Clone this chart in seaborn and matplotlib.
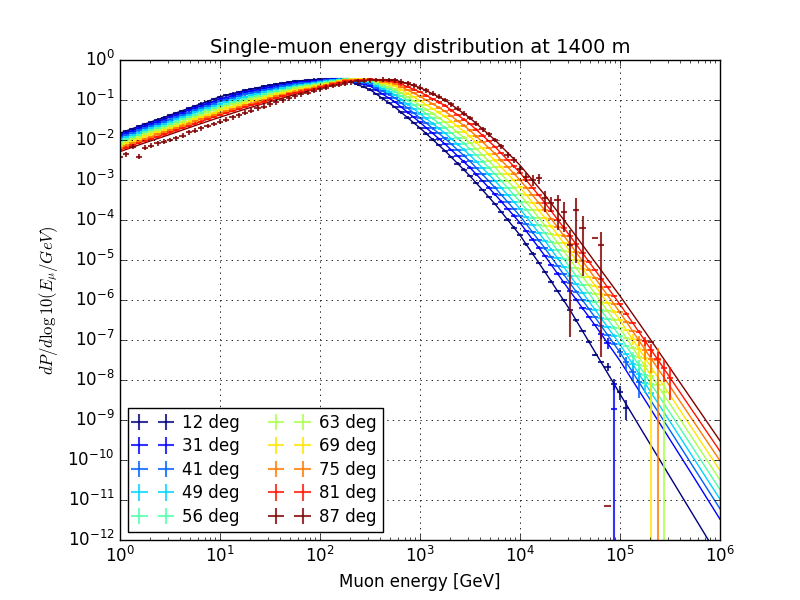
import numpy as np
import pandas as pd
import matplotlib

matplotlib.use("Agg")
import matplotlib.pyplot as plt
import seaborn as sns
from matplotlib.ticker import LogLocator, NullLocator

# zenith angle bins
angles = [12, 31, 41, 49, 56, 63, 69, 75, 81, 87]

# fitted curves: log10(dP/dlog10E) sampled at log10(E/GeV)
fit_log_e = [0.0, 0.25, 0.5, 0.75, 1.0, 1.25, 1.5, 1.75, 2.0, 2.25, 2.5, 2.75, 3.0,
             3.25, 3.5, 3.75, 4.0, 4.25, 4.5, 4.75, 5.0, 5.25, 5.5, 5.75, 6.0]
fit_12 = [-1.83, -1.60, -1.38, -1.15, -0.92, -0.76, -0.63, -0.53, -0.48, -0.49, -0.74, -1.18, -1.70,
          -2.27, -2.90, -3.60, -4.38, -5.30, -6.25, -7.30, -8.35, -9.39, -10.42, -11.45, -12.48]
fit_31 = [-1.88, -1.65, -1.43, -1.20, -0.98, -0.81, -0.68, -0.57, -0.50, -0.48, -0.65, -1.05, -1.56,
          -2.10, -2.69, -3.36, -4.07, -4.90, -5.78, -6.63, -7.52, -8.50, -9.49, -10.48, -11.48]
fit_41 = [-1.93, -1.70, -1.49, -1.26, -1.03, -0.86, -0.72, -0.60, -0.53, -0.47, -0.60, -0.95, -1.45,
          -1.96, -2.53, -3.19, -3.90, -4.71, -5.58, -6.43, -7.31, -8.29, -9.26, -10.24, -11.22]
fit_49 = [-1.98, -1.76, -1.54, -1.31, -1.09, -0.92, -0.77, -0.64, -0.55, -0.47, -0.56, -0.87, -1.34,
          -1.83, -2.38, -3.02, -3.72, -4.52, -5.39, -6.24, -7.11, -8.08, -9.04, -10.01, -10.98]
fit_56 = [-2.03, -1.81, -1.59, -1.37, -1.15, -0.97, -0.81, -0.68, -0.58, -0.48, -0.53, -0.79, -1.23,
          -1.69, -2.22, -2.85, -3.54, -4.33, -5.19, -6.04, -6.91, -7.87, -8.82, -9.78, -10.74]
fit_63 = [-2.09, -1.86, -1.65, -1.42, -1.20, -1.02, -0.86, -0.71, -0.60, -0.49, -0.51, -0.72, -1.13,
          -1.55, -2.07, -2.68, -3.36, -4.14, -4.99, -5.84, -6.71, -7.66, -8.60, -9.55, -10.50]
fit_69 = [-2.14, -1.91, -1.70, -1.48, -1.26, -1.07, -0.90, -0.75, -0.63, -0.50, -0.49, -0.65, -1.02,
          -1.41, -1.91, -2.51, -3.18, -3.95, -4.79, -5.64, -6.51, -7.45, -8.38, -9.32, -10.26]
fit_75 = [-2.19, -1.97, -1.75, -1.53, -1.32, -1.13, -0.95, -0.79, -0.65, -0.51, -0.48, -0.59, -0.91,
          -1.28, -1.76, -2.34, -3.00, -3.76, -4.60, -5.45, -6.31, -7.24, -8.16, -9.09, -10.02]
fit_81 = [-2.24, -2.02, -1.81, -1.59, -1.37, -1.18, -0.99, -0.82, -0.68, -0.53, -0.48, -0.54, -0.80,
          -1.14, -1.60, -2.17, -2.82, -3.57, -4.40, -5.25, -6.11, -7.02, -7.94, -8.86, -9.78]
fit_87 = [-2.29, -2.07, -1.86, -1.64, -1.43, -1.23, -1.04, -0.86, -0.70, -0.56, -0.49, -0.50, -0.69,
          -1.00, -1.45, -2.00, -2.63, -3.38, -4.20, -5.05, -5.90, -6.79, -7.70, -8.61, -9.52]

# measured histograms: log10(dP/dlog10E), 16 bins per decade starting at 1 GeV
nan = np.nan
data_12 = [-1.83, -1.77, -1.72, -1.66, -1.60, -1.55, -1.49, -1.44, -1.38, -1.32, -1.27, -1.21, -1.15, -1.09, -1.04, -0.98,
           -0.92, -0.88, -0.84, -0.80, -0.76, -0.73, -0.70, -0.66, -0.63, -0.61, -0.58, -0.56, -0.53, -0.52, -0.51, -0.49,
           -0.48, -0.47, -0.47, -0.48, -0.49, -0.55, -0.61, -0.68, -0.74, -0.85, -0.96, -1.07, -1.18, -1.31, -1.44, -1.57,
           -1.70, -1.84, -1.99, -2.13, -2.27, -2.43, -2.59, -2.74, -2.90, -3.08, -3.25, -3.43, -3.60, -3.80, -3.99, -4.19,
           -4.38, -4.61, -4.84, -5.07, -5.30, -5.54, -5.78, -6.01, -6.25, -6.51, -6.78, -7.04, -7.38, -7.55, -7.68, -8.10,
           -8.30, -8.70]
data_31 = [-1.88, -1.82, -1.77, -1.71, -1.65, -1.60, -1.54, -1.49, -1.43, -1.37, -1.32, -1.26, -1.20, -1.15, -1.09, -1.04,
           -0.98, -0.94, -0.89, -0.85, -0.81, -0.78, -0.75, -0.71, -0.68, -0.65, -0.62, -0.60, -0.57, -0.55, -0.54, -0.52,
           -0.50, -0.49, -0.48, -0.48, -0.48, -0.52, -0.56, -0.61, -0.65, -0.75, -0.85, -0.95, -1.05, -1.18, -1.31, -1.43,
           -1.56, -1.70, -1.83, -1.97, -2.10, -2.25, -2.40, -2.54, -2.69, -2.86, -3.02, -3.19, -3.36, -3.54, -3.72, -3.89,
           -4.07, -4.28, -4.49, -4.69, -4.90, -5.12, -5.34, -5.56, -5.78, -5.99, -6.21, -6.42, -6.63, -6.85, -7.07, -8.73]
data_41 = [-1.93, -1.87, -1.82, -1.76, -1.70, -1.65, -1.60, -1.54, -1.49, -1.43, -1.38, -1.32, -1.26, -1.20, -1.15, -1.09,
           -1.03, -0.99, -0.95, -0.90, -0.86, -0.83, -0.79, -0.76, -0.72, -0.69, -0.66, -0.63, -0.60, -0.58, -0.57, -0.55,
           -0.53, -0.51, -0.50, -0.48, -0.47, -0.50, -0.54, -0.57, -0.60, -0.69, -0.78, -0.86, -0.95, -1.08, -1.20, -1.33,
           -1.45, -1.58, -1.71, -1.83, -1.96, -2.10, -2.25, -2.39, -2.53, -2.70, -2.86, -3.03, -3.19, -3.37, -3.55, -3.72,
           -3.90, -4.10, -4.31, -4.51, -4.71, -4.93, -5.15, -5.36, -5.58, -5.79, -6.01, -6.22, -6.43, -6.65, -6.87, -7.09,
           -7.31, -7.56, -7.80, -8.05]
data_49 = [-1.98, -1.93, -1.87, -1.82, -1.76, -1.71, -1.65, -1.60, -1.54, -1.48, -1.43, -1.37, -1.31, -1.26, -1.20, -1.15,
           -1.09, -1.05, -1.01, -0.96, -0.92, -0.88, -0.85, -0.81, -0.77, -0.74, -0.71, -0.67, -0.64, -0.62, -0.60, -0.57,
           -0.55, -0.53, -0.51, -0.49, -0.47, -0.49, -0.52, -0.54, -0.56, -0.64, -0.72, -0.79, -0.87, -0.99, -1.11, -1.22,
           -1.34, -1.46, -1.59, -1.71, -1.83, -1.97, -2.11, -2.24, -2.38, -2.54, -2.70, -2.86, -3.02, -3.20, -3.37, -3.55,
           -3.72, -3.92, -4.12, -4.32, -4.52, -4.74, -4.96, -5.17, -5.39, -5.60, -5.82, -6.03, -6.24, -6.46, -6.68, -6.89,
           -7.11, -7.35, -7.60, -7.84, -8.08, -8.32]
data_56 = [-2.03, -1.98, -1.92, -1.87, -1.81, -1.76, -1.70, -1.65, -1.59, -1.54, -1.48, -1.43, -1.37, -1.32, -1.26, -1.21,
           -1.15, -1.11, -1.06, -1.02, -0.97, -0.93, -0.89, -0.85, -0.81, -0.78, -0.75, -0.71, -0.68, -0.66, -0.63, -0.61,
           -0.58, -0.56, -0.53, -0.51, -0.48, -0.49, -0.50, -0.52, -0.53, -0.60, -0.66, -0.73, -0.79, -0.90, -1.01, -1.12,
           -1.23, -1.35, -1.46, -1.58, -1.69, -1.82, -1.96, -2.09, -2.22, -2.38, -2.54, -2.69, -2.85, -3.02, -3.20, -3.37,
           -3.54, -3.74, -3.94, -4.13, -4.33, -4.55, -4.76, -4.98, -5.19, -5.40, -5.62, -5.83, -6.04, -6.26, -6.48, -6.69,
           -6.91, -7.15, -7.39, -7.63, -7.87, -8.11]
data_63 = [-2.09, -2.03, -1.98, -1.92, -1.86, -1.81, -1.76, -1.70, -1.65, -1.59, -1.54, -1.48, -1.42, -1.37, -1.31, -1.26,
           -1.20, -1.16, -1.11, -1.07, -1.02, -0.98, -0.94, -0.90, -0.86, -0.82, -0.78, -0.75, -0.71, -0.68, -0.66, -0.63,
           -0.60, -0.57, -0.55, -0.52, -0.49, -0.48, -0.49, -0.50, -0.51, -0.56, -0.62, -0.67, -0.72, -0.82, -0.92, -1.03,
           -1.13, -1.24, -1.34, -1.45, -1.55, -1.68, -1.81, -1.94, -2.07, -2.22, -2.38, -2.53, -2.68, -2.85, -3.02, -3.19,
           -3.36, -3.56, -3.75, -3.95, -4.14, -4.35, -4.57, -4.78, -4.99, -5.20, -5.42, -5.63, -5.84, -6.06, -6.28, -6.49,
           -6.71, -6.95, -7.19, -7.42, -7.66, -7.90, -8.13, -8.30]
data_69 = [-2.14, -2.08, -2.03, -1.97, -1.91, -1.86, -1.81, -1.75, -1.70, -1.65, -1.59, -1.54, -1.48, -1.43, -1.37, -1.32,
           -1.26, -1.21, -1.17, -1.12, -1.07, -1.03, -0.99, -0.94, -0.90, -0.86, -0.83, -0.79, -0.75, -0.72, -0.69, -0.66,
           -0.63, -0.60, -0.57, -0.53, -0.50, -0.49, -0.48, -0.48, -0.49, -0.53, -0.57, -0.61, -0.65, -0.74, -0.84, -0.93,
           -1.02, -1.12, -1.22, -1.31, -1.41, -1.54, -1.66, -1.79, -1.91, -2.06, -2.21, -2.36, -2.51, -2.68, -2.85, -3.01,
           -3.18, -3.37, -3.57, -3.76, -3.95, -4.16, -4.37, -4.58, -4.79, -5.00, -5.22, -5.43, -5.64, -5.86, -6.08, -6.29,
           -6.51, -6.75, -6.98, -7.22, -7.45, -7.80]
data_75 = [-2.19, -2.14, -2.08, -2.03, -1.97, -1.92, -1.86, -1.81, -1.75, -1.70, -1.64, -1.59, -1.53, -1.48, -1.43, -1.37,
           -1.32, -1.27, -1.23, -1.18, -1.13, -1.09, -1.04, -1.00, -0.95, -0.91, -0.87, -0.83, -0.79, -0.76, -0.72, -0.69,
           -0.65, -0.62, -0.58, -0.55, -0.51, -0.50, -0.50, -0.49, -0.48, -0.51, -0.54, -0.56, -0.59, -0.67, -0.75, -0.83,
           -0.91, -1.00, -1.10, -1.19, -1.28, -1.40, -1.52, -1.64, -1.76, -1.91, -2.05, -2.20, -2.34, -2.51, -2.67, -2.84,
           -3.00, -3.19, -3.38, -3.57, -3.76, -3.97, -4.18, -4.39, -4.60, -4.81, -5.03, -5.24, -5.45, -5.67, -5.88, -6.10,
           -6.31, -6.54, -6.78, -7.01, -7.24, -7.47, -7.50]
data_81 = [-2.24, -2.19, -2.13, -2.08, -2.02, -1.97, -1.92, -1.86, -1.81, -1.76, -1.70, -1.65, -1.59, -1.54, -1.48, -1.43,
           -1.37, -1.32, -1.28, -1.23, -1.18, -1.13, -1.09, -1.04, -0.99, -0.95, -0.91, -0.86, -0.82, -0.79, -0.75, -0.72,
           -0.68, -0.64, -0.60, -0.57, -0.53, -0.52, -0.51, -0.49, -0.48, -0.50, -0.51, -0.53, -0.54, -0.61, -0.67, -0.74,
           -0.80, -0.89, -0.97, -1.06, -1.14, -1.26, -1.37, -1.49, -1.60, -1.74, -1.89, -2.03, -2.17, -2.33, -2.50, -2.66,
           -2.82, -3.01, -3.20, -3.38, -3.57, -3.78, -3.99, -4.19, -4.40, -4.61, -4.83, -5.04, -5.25, -5.47, -5.68, -5.90,
           -6.11, -6.34, -6.57, -6.79, -7.02, -7.25, -7.48, -7.71, -7.94]
data_87 = [-2.42, -2.36, -2.17, -2.42, -2.19, -2.14, -2.08, -2.04, -2.00, -1.96, -1.89, -1.81, -1.77, -1.71, -1.65, -1.60,
           -1.54, -1.49, -1.43, -1.38, -1.32, -1.27, -1.21, -1.17, -1.11, -1.06, -1.01, -0.96, -0.91, -0.86, -0.82, -0.77,
           -0.73, -0.69, -0.65, -0.62, -0.59, -0.56, -0.53, -0.52, -0.51, -0.50, -0.49, -0.50, -0.51, -0.54, -0.58, -0.63,
           -0.69, -0.76, -0.84, -0.92, -1.00, -1.11, -1.22, -1.34, -1.45, -1.59, -1.73, -1.86, -2.00, -2.16, -2.37, -2.50,
           -2.72, -2.92, -3.00, -2.96, -3.46, -3.58, -3.50, -3.79, -4.62, -3.75, -4.20, nan, -4.45, -4.62, -11.14, nan,
           nan, nan, nan, nan, nan, -7.04]

# vertical error (decades) for most bins, and explicit (down, up) where the tail is sparse
base_err = {12: 0.03, 31: 0.03, 41: 0.03, 49: 0.03, 56: 0.03, 63: 0.03, 69: 0.03, 75: 0.03, 81: 0.03, 87: 0.06}
tail_err = {
    12: {4.875: (0.1, 0.1), 4.9375: (0.15, 0.12), 5.0: (0.2, 0.15), 5.0625: (0.3, 0.2)},
    31: {4.8125: (0.12, 0.1), 4.875: (0.15, 0.12), 4.9375: (99, 0.65)},
    41: {5.0: (0.12, 0.1), 5.0625: (0.18, 0.14), 5.125: (0.25, 0.18), 5.1875: (0.4, 0.22)},
    49: {5.125: (0.12, 0.1), 5.1875: (0.18, 0.14), 5.25: (0.25, 0.18), 5.3125: (0.45, 0.22)},
    56: {5.125: (0.12, 0.1), 5.1875: (0.18, 0.14), 5.25: (0.25, 0.18), 5.3125: (0.45, 0.22)},
    63: {5.25: (0.15, 0.12), 5.3125: (0.25, 0.18), 5.375: (0.35, 0.22), 5.4375: (99, 0.3)},
    69: {5.125: (0.15, 0.12), 5.1875: (0.25, 0.18), 5.25: (0.35, 0.22), 5.3125: (99, 0.3)},
    75: {5.1875: (0.15, 0.12), 5.25: (0.25, 0.18), 5.3125: (0.35, 0.22), 5.375: (99, 0.3)},
    81: {5.25: (0.12, 0.1), 5.3125: (0.18, 0.14), 5.375: (0.25, 0.18), 5.4375: (0.35, 0.22), 5.5: (0.55, 0.26)},
    87: {3.8125: (0.06, 0.06), 3.875: (0.08, 0.08), 3.9375: (0.08, 0.08), 4.0: (0.1, 0.08),
         4.0625: (0.12, 0.1), 4.125: (0.15, 0.12), 4.1875: (0.15, 0.12), 4.25: (0.35, 0.19),
         4.3125: (0.22, 0.15), 4.375: (0.75, 0.13), 4.4375: (0.5, 0.23), 4.5: (2.3, 0.37),
         4.5625: (1.33, 0.29), 4.625: (1.2, 0.3), 4.75: (0, 0), 4.8125: (2.8, 0.32),
         4.875: (0, 0), 5.3125: (0, 0)},
}

fits = [fit_12, fit_31, fit_41, fit_49, fit_56, fit_63, fit_69, fit_75, fit_81, fit_87]
datas = [data_12, data_31, data_41, data_49, data_56, data_63, data_69, data_75, data_81, data_87]
bins_per_decade = 16

plt.style.use("classic")
plt.rcParams["mathtext.fontset"] = "cm"

fig, ax = plt.subplots(figsize=(8, 6))
fig.patch.set_facecolor("white")
fig.subplots_adjust(left=0.15, right=0.9, bottom=0.1, top=0.9)
ax.set_xscale("log")
ax.set_yscale("log")

colors = plt.cm.jet(np.linspace(0, 1, len(angles)))
labels = [f"{a} deg" for a in angles]
palette = dict(zip(labels, colors))

# fitted curves through seaborn
rows = []
for lab, fit in zip(labels, fits):
    for le, ly in zip(fit_log_e, fit):
        rows.append((lab, 10 ** le, 10 ** ly))
df_fit = pd.DataFrame(rows, columns=["angle", "energy", "prob"])
sns.lineplot(data=df_fit, x="energy", y="prob", hue="angle", hue_order=labels,
             palette=palette, estimator=None, sort=False, legend=False,
             linewidth=1.0, ax=ax)

# histograms as error-bar crosses
handles = []
for a, lab, col, vals in zip(angles, labels, colors, datas):
    logy = np.array(vals, dtype=float)
    n = len(logy)
    log_e = np.arange(n) / bins_per_decade
    down = np.full(n, base_err[a])
    up = np.full(n, base_err[a])
    for le, (d, u) in tail_err[a].items():
        k = int(round(le * bins_per_decade))
        down[k], up[k] = d, u
    x = 10 ** log_e
    y = 10 ** logy
    half = 0.5 / bins_per_decade
    xerr = [x - 10 ** (log_e - half), 10 ** (log_e + half) - x]
    yerr = [y - 10 ** (logy - down), 10 ** (logy + up) - y]
    h = ax.errorbar(x, y, xerr=xerr, yerr=yerr, fmt="none", ecolor=col,
                    elinewidth=1.5, capsize=0, alpha=0.8)
    handles.append(h)

ax.set_xlim(1, 1e6)
ax.set_ylim(1e-12, 1)
ax.yaxis.set_major_locator(LogLocator(base=10, numticks=20))
ax.yaxis.set_minor_locator(NullLocator())
ax.xaxis.set_major_locator(LogLocator(base=10, numticks=10))
ax.xaxis.set_minor_locator(LogLocator(base=10, subs=np.arange(2, 10), numticks=100))
ax.grid(True, which="major", color="black", linestyle=":", linewidth=0.6)

ax.set_title("Single-muon energy distribution at 1400 m", fontsize=14)
ax.set_xlabel("Muon energy [GeV]", fontsize=12)
ax.set_ylabel(r"$dP/d\log10(E_{\mu}/GeV)$", fontsize=12)

ax.legend(handles, labels, loc="lower left", ncol=2, numpoints=2, fontsize=12,
          fancybox=False, frameon=True, edgecolor="black", borderaxespad=0.5,
          borderpad=0.36, labelspacing=0.33, handlelength=2.2, handletextpad=0.68,
          columnspacing=1.86)

fig.savefig("out.png", dpi=100, facecolor="white")
